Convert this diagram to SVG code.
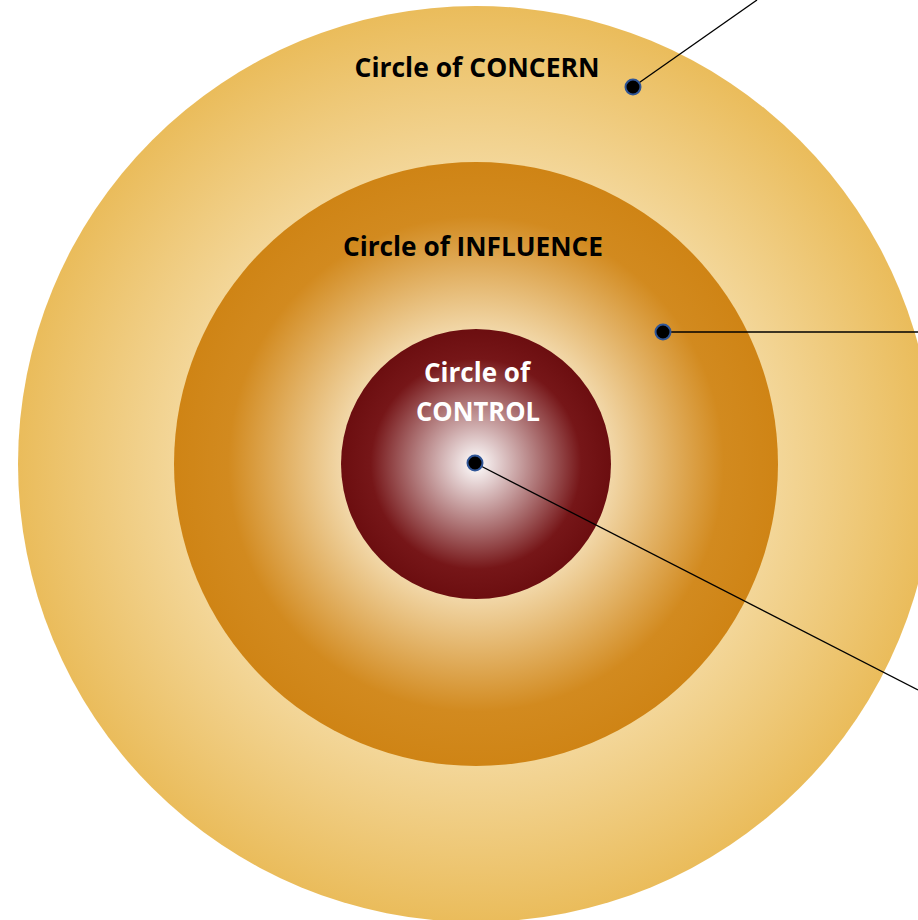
<svg xmlns="http://www.w3.org/2000/svg" width="918" height="920" viewBox="0 0 918 920">
<defs>
<radialGradient id="gOuter" gradientUnits="userSpaceOnUse" cx="476" cy="464" r="458">
<stop offset="0" stop-color="#F8E6BE"/>
<stop offset="0.66" stop-color="#F3D698"/>
<stop offset="1" stop-color="#EABC5B"/>
</radialGradient>
<radialGradient id="gMid" gradientUnits="userSpaceOnUse" cx="476" cy="464" r="302">
<stop offset="0" stop-color="#FFFFFF"/>
<stop offset="0.45" stop-color="#F1D6A6"/>
<stop offset="0.82" stop-color="#D28A1F"/>
<stop offset="1" stop-color="#CF8415"/>
</radialGradient>
<radialGradient id="gInner" gradientUnits="userSpaceOnUse" cx="476" cy="464" r="135">
<stop offset="0" stop-color="#FFFFFF"/>
<stop offset="0.78" stop-color="#761618"/>
<stop offset="1" stop-color="#6C0E10"/>
</radialGradient>
</defs>
<style>
.lbl{font-family:"Open Sans","Liberation Sans",sans-serif;font-weight:bold;font-size:26px;text-anchor:middle}
.dark{fill:#000}
.light{fill:#fff}
.dot{fill:#000;stroke:#2F5597;stroke-width:2}
.conn{stroke:#000;stroke-width:1.3;fill:none}
</style>
<g id="concern">
<circle cx="476" cy="464" r="458" fill="url(#gOuter)"/>
<text class="lbl dark" x="477" y="77" textLength="245" lengthAdjust="spacingAndGlyphs">Circle of CONCERN</text>
</g>
<g id="influence">
<circle cx="476" cy="464" r="302" fill="url(#gMid)"/>
<text class="lbl dark" x="473" y="256" textLength="260" lengthAdjust="spacingAndGlyphs">Circle of INFLUENCE</text>
</g>
<g id="control">
<circle cx="476" cy="464" r="135" fill="url(#gInner)"/>
<text class="lbl light" x="477" y="382" textLength="106" lengthAdjust="spacingAndGlyphs">Circle of</text>
<text class="lbl light" x="478" y="421" textLength="124" lengthAdjust="spacingAndGlyphs">CONTROL</text>
</g>
<g id="connectors">
<line class="conn" x1="633" y1="87" x2="757" y2="0"/>
<line class="conn" x1="663" y1="332" x2="918" y2="332"/>
<line class="conn" x1="475" y1="463" x2="918" y2="690"/>
</g>
<g id="dots">
<circle class="dot" cx="633" cy="87" r="7.5"/>
<circle class="dot" cx="663" cy="332" r="7.5"/>
<circle class="dot" cx="475" cy="463" r="7.5"/>
</g>
</svg>
